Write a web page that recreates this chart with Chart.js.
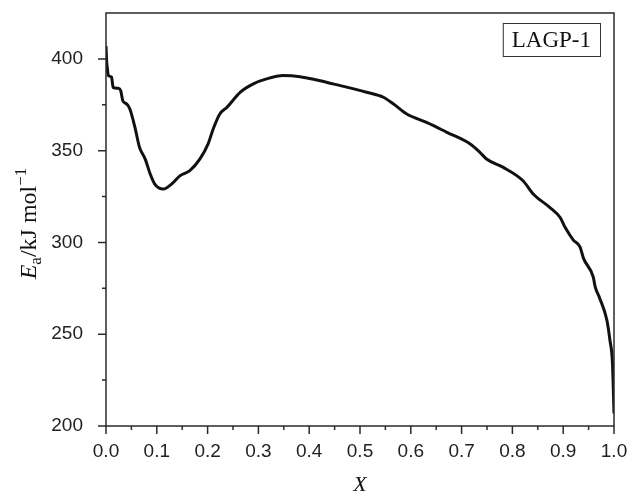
<!DOCTYPE html>
<html>
<head>
<meta charset="utf-8">
<title>Ea vs X</title>
<script src="https://cdn.jsdelivr.net/npm/chart.js@4.4.1/dist/chart.umd.min.js"></script>
<style>
  html, body { margin: 0; padding: 0; background: #fff; }
  #wrap { width: 628px; height: 492px; }
</style>
</head>
<body>
<div id="wrap"><canvas id="eaChart" width="628" height="492"></canvas></div>
<script>
// conversion X and activation energy Ea (kJ/mol)
const conversion = [0, 0.0014, 0.0026, 0.0045, 0.011, 0.014, 0.024, 0.029, 0.033, 0.041,
  0.047, 0.057, 0.066, 0.077, 0.087, 0.096, 0.113, 0.129, 0.146, 0.165,
  0.185, 0.201, 0.211, 0.224, 0.238, 0.264, 0.29, 0.316, 0.349, 0.382,
  0.415, 0.447, 0.48, 0.513, 0.546, 0.566, 0.592, 0.631, 0.671, 0.717,
  0.736, 0.749, 0.782, 0.821, 0.841, 0.874, 0.894, 0.904, 0.92, 0.933,
  0.94, 0.959, 0.963, 0.972, 0.986, 0.992, 0.997, 1.0];
const activationEnergy = [407, 398, 395, 391, 390, 384.5, 384, 382.7, 377.2, 375.4,
  372.7, 362.7, 351.8, 345.5, 337.3, 331.8, 329.1, 331.8, 336.4, 339.1,
  345.5, 353.7, 361.8, 370, 373.6, 381.8, 386.4, 389.1, 390.9, 390.3,
  388.5, 386.4, 384.2, 381.8, 379.1, 375.4, 370, 365.4, 360, 353.6,
  349.1, 345.5, 340.9, 333.6, 326.4, 319, 313.6, 308.1, 301.3, 297.6,
  291.3, 281.3, 275.8, 269.5, 257.6, 246.7, 234, 206.8];

const xTicks = [0, 0.1, 0.2, 0.3, 0.4, 0.5, 0.6, 0.7, 0.8, 0.9, 1.0];
const xMinorTicks = [0.05, 0.15, 0.25, 0.35, 0.45, 0.55, 0.65, 0.75, 0.85, 0.95];
const yTicks = [200, 250, 300, 350, 400];
const yMinorTicks = [225, 275, 325, 375];
const sampleName = 'LAGP-1';

const axisColor = '#2a2a2a';
const tickFont = { family: '"Liberation Sans", Arial, sans-serif', size: 19 };

// frame, tick marks, sample box and axis titles
const framePlugin = {
  id: 'framePlugin',
  afterDraw(chart) {
    const ctx = chart.ctx;
    const a = chart.chartArea;
    const xs = chart.scales.x, ys = chart.scales.y;
    ctx.save();
    ctx.strokeStyle = axisColor;
    ctx.lineWidth = 1.5;
    ctx.strokeRect(a.left, a.top, a.right - a.left, a.bottom - a.top);

    ctx.beginPath();
    xTicks.forEach(v => { const p = xs.getPixelForValue(v); ctx.moveTo(p, a.bottom); ctx.lineTo(p, a.bottom + 8); });
    xMinorTicks.forEach(v => { const p = xs.getPixelForValue(v); ctx.moveTo(p, a.bottom); ctx.lineTo(p, a.bottom + 4); });
    yTicks.forEach(v => { const p = ys.getPixelForValue(v); ctx.moveTo(a.left, p); ctx.lineTo(a.left - 8, p); });
    yMinorTicks.forEach(v => { const p = ys.getPixelForValue(v); ctx.moveTo(a.left, p); ctx.lineTo(a.left - 4, p); });
    ctx.stroke();

    // sample name box, top right
    ctx.font = '23px "Liberation Serif", "Times New Roman", serif';
    const tw = ctx.measureText(sampleName).width;
    const bw = tw + 18, bh = 33;
    const bx = a.right - 14 - bw, by = a.top + 10;
    ctx.lineWidth = 1;
    ctx.strokeStyle = '#333';
    ctx.strokeRect(bx + 0.5, by + 0.5, bw, bh);
    ctx.fillStyle = '#111';
    ctx.textAlign = 'center';
    ctx.textBaseline = 'middle';
    ctx.fillText(sampleName, bx + bw / 2, by + bh / 2 + 1);

    // x title
    ctx.font = 'italic 22px "Liberation Serif", "Times New Roman", serif';
    ctx.textBaseline = 'alphabetic';
    ctx.fillText('X', (a.left + a.right) / 2, 491);

    // y title: Ea/kJ mol^-1, rotated
    const parts = [
      { t: 'E', f: 'italic 24px "Liberation Serif", serif', dy: 0 },
      { t: 'a', f: '17px "Liberation Serif", serif', dy: 5 },
      { t: '/kJ mol', f: '24px "Liberation Serif", serif', dy: 0 },
      { t: '\u22121', f: '17px "Liberation Serif", serif', dy: -10 }
    ];
    let total = 0;
    parts.forEach(p => { ctx.font = p.f; p.w = ctx.measureText(p.t).width; total += p.w; });
    ctx.translate(36, (a.top + a.bottom) / 2 + 4);
    ctx.rotate(-Math.PI / 2);
    ctx.textAlign = 'left';
    let cx = -total / 2;
    parts.forEach(p => { ctx.font = p.f; ctx.fillText(p.t, cx, p.dy); cx += p.w; });
    ctx.restore();
  }
};

new Chart(document.getElementById('eaChart'), {
  type: 'scatter',
  data: {
    datasets: [{
      label: sampleName,
      data: conversion.map((x, i) => ({ x: x, y: activationEnergy[i] })),
      showLine: true,
      borderColor: '#111',
      borderWidth: 3,
      pointRadius: 0,
      cubicInterpolationMode: 'monotone'
    }]
  },
  options: {
    responsive: false,
    devicePixelRatio: 1,
    animation: false,
    layout: { padding: { top: 13, right: 14, left: 0, bottom: 0 } },
    plugins: { legend: { display: false }, tooltip: { enabled: false } },
    scales: {
      x: {
        type: 'linear',
        min: 0,
        max: 1,
        afterBuildTicks: scale => { scale.ticks = xTicks.map(v => ({ value: v })); },
        afterFit: scale => { scale.height = 66; scale.paddingLeft = 0; scale.paddingRight = 0; },
        grid: { display: false },
        border: { display: false },
        ticks: {
          font: tickFont,
          color: '#222',
          padding: 6,
          maxRotation: 0,
          callback: v => v.toFixed(1)
        }
      },
      y: {
        type: 'linear',
        min: 200,
        max: 425,
        afterBuildTicks: scale => { scale.ticks = yTicks.map(v => ({ value: v })); },
        afterFit: scale => { scale.width = 106; scale.paddingTop = 0; scale.paddingBottom = 0; },
        grid: { display: false },
        border: { display: false },
        ticks: {
          font: tickFont,
          color: '#222',
          padding: 15
        }
      }
    }
  },
  plugins: [framePlugin]
});
</script>
</body>
</html>
